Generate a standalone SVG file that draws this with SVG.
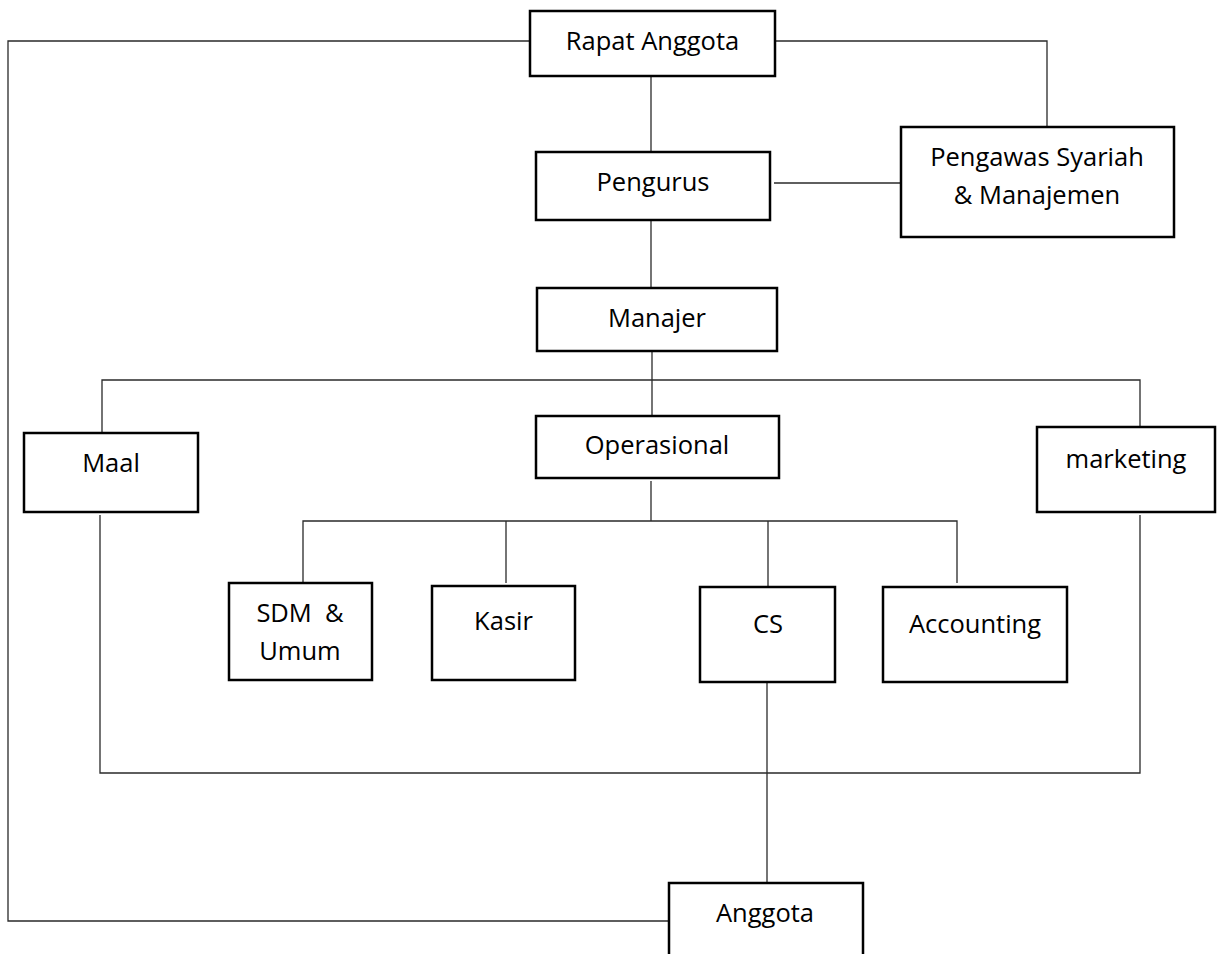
<svg xmlns="http://www.w3.org/2000/svg" width="1220" height="954" viewBox="0 0 1220 954">
<style>
.box{fill:#fff;stroke:#000;stroke-width:2.5}
.lbl{font-family:"Open Sans","Noto Sans","Liberation Sans",sans-serif;font-size:25.5px;fill:#000;text-anchor:middle;white-space:pre}
.con{fill:none;stroke:#2a2a2a;stroke-width:1.3}
</style>
<rect width="1220" height="954" fill="#fff"/>
<g id="connectors">
<path class="con" d="M530,41 H8 V921 H669"/>
<path class="con" d="M775,41 H1047 V127"/>
<path class="con" d="M651,76 V152"/>
<path class="con" d="M774,183 H901"/>
<path class="con" d="M651,220 V288"/>
<path class="con" d="M652,351 V416"/>
<path class="con" d="M102,433 V380 H1140 V427"/>
<path class="con" d="M651,481 V521"/>
<path class="con" d="M303,583 V521 H957 V583"/>
<path class="con" d="M506,521 V583"/>
<path class="con" d="M768,521 V587"/>
<path class="con" d="M100,515 V773 H1140 V515"/>
<path class="con" d="M767,682 V883"/>
</g>
<g id="rapat-anggota"><rect class="box" x="530" y="11" width="245" height="65"/><text class="lbl" x="652.5" y="50">Rapat Anggota</text></g>
<g id="pengurus"><rect class="box" x="536" y="152" width="234" height="68"/><text class="lbl" x="653" y="191">Pengurus</text></g>
<g id="pengawas"><rect class="box" x="901" y="127" width="273" height="110"/><text class="lbl" x="1037" y="166">Pengawas Syariah</text><text class="lbl" x="1037" y="204">&amp; Manajemen</text></g>
<g id="manajer"><rect class="box" x="537" y="288" width="240" height="63"/><text class="lbl" x="657" y="327">Manajer</text></g>
<g id="maal"><rect class="box" x="24" y="433" width="174" height="79"/><text class="lbl" x="111" y="472">Maal</text></g>
<g id="operasional"><rect class="box" x="536" y="416" width="243" height="62"/><text class="lbl" x="657" y="454">Operasional</text></g>
<g id="marketing"><rect class="box" x="1037" y="427" width="178" height="85"/><text class="lbl" x="1126" y="468">marketing</text></g>
<g id="sdm-umum"><rect class="box" x="229" y="583" width="143" height="97"/><text class="lbl" x="300" y="622">SDM  &amp;</text><text class="lbl" x="300" y="660">Umum</text></g>
<g id="kasir"><rect class="box" x="432" y="586" width="143" height="94"/><text class="lbl" x="503.5" y="630">Kasir</text></g>
<g id="cs"><rect class="box" x="700" y="587" width="135" height="95"/><text class="lbl" x="768" y="633">CS</text></g>
<g id="accounting"><rect class="box" x="883" y="587" width="184" height="95"/><text class="lbl" x="975" y="633">Accounting</text></g>
<g id="anggota"><rect class="box" x="669" y="883" width="194" height="90"/><text class="lbl" x="765" y="922">Anggota</text></g>
</svg>
